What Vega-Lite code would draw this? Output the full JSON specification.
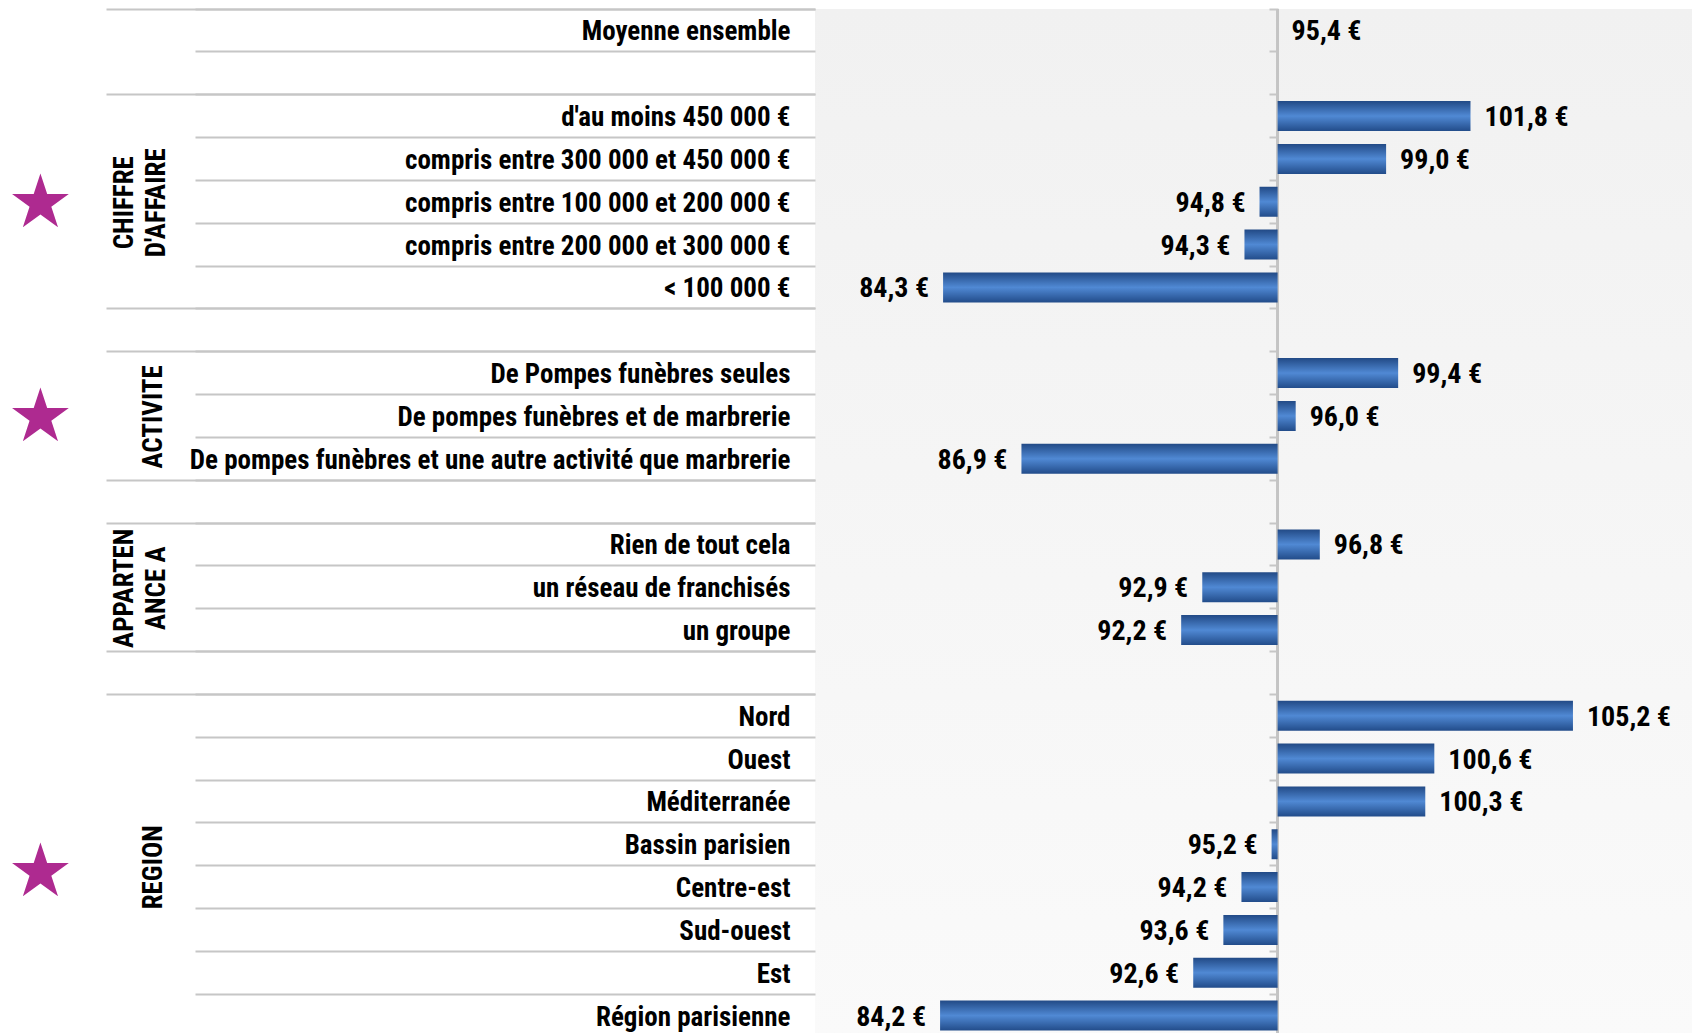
{
  "$schema": "https://vega.github.io/schema/vega-lite/v6.json",
  "width": 877,
  "height": 1028,
  "autosize": {"type": "none"},
  "padding": {"left": 815, "top": 9, "right": 0, "bottom": -4},
  "background": "#ffffff",
  "data": {
    "values": [
      {"libelle": "Moyenne ensemble", "rubrique": "ENSEMBLE", "montant": 95.4},
      {"libelle": " ", "rubrique": "", "montant": null},
      {"libelle": "d'au moins 450 000 €", "rubrique": "CHIFFRE D'AFFAIRE", "montant": 101.8},
      {"libelle": "compris entre 300 000 et 450 000 €", "rubrique": "CHIFFRE D'AFFAIRE", "montant": 99.0},
      {"libelle": "compris entre 100 000 et 200 000 €", "rubrique": "CHIFFRE D'AFFAIRE", "montant": 94.8},
      {"libelle": "compris entre 200 000 et 300 000 €", "rubrique": "CHIFFRE D'AFFAIRE", "montant": 94.3},
      {"libelle": "< 100 000 €", "rubrique": "CHIFFRE D'AFFAIRE", "montant": 84.3},
      {"libelle": "  ", "rubrique": "", "montant": null},
      {"libelle": "De Pompes funèbres seules", "rubrique": "ACTIVITE", "montant": 99.4},
      {"libelle": "De pompes funèbres et de marbrerie", "rubrique": "ACTIVITE", "montant": 96.0},
      {"libelle": "De pompes funèbres et une autre activité que marbrerie", "rubrique": "ACTIVITE", "montant": 86.9},
      {"libelle": "   ", "rubrique": "", "montant": null},
      {"libelle": "Rien de tout cela", "rubrique": "APPARTENANCE A", "montant": 96.8},
      {"libelle": "un réseau de franchisés", "rubrique": "APPARTENANCE A", "montant": 92.9},
      {"libelle": "un groupe", "rubrique": "APPARTENANCE A", "montant": 92.2},
      {"libelle": "    ", "rubrique": "", "montant": null},
      {"libelle": "Nord", "rubrique": "REGION", "montant": 105.2},
      {"libelle": "Ouest", "rubrique": "REGION", "montant": 100.6},
      {"libelle": "Méditerranée", "rubrique": "REGION", "montant": 100.3},
      {"libelle": "Bassin parisien", "rubrique": "REGION", "montant": 95.2},
      {"libelle": "Centre-est", "rubrique": "REGION", "montant": 94.2},
      {"libelle": "Sud-ouest", "rubrique": "REGION", "montant": 93.6},
      {"libelle": "Est", "rubrique": "REGION", "montant": 92.6},
      {"libelle": "Région parisienne", "rubrique": "REGION", "montant": 84.2}
    ]
  },
  "resolve": {"scale": {"y": "shared", "x": "shared"}, "axis": {"y": "independent"}},
  "layer": [
    {
      "mark": {"type": "text", "text": "", "opacity": 0},
      "encoding": {
        "y": {
          "field": "libelle", "type": "nominal", "sort": null,
          "scale": {"paddingInner": 0, "paddingOuter": 0},
          "axis": {
            "orient": "left", "title": null, "domain": false, "ticks": false, "grid": false,
            "labelFont": "Roboto Condensed, Liberation Sans Narrow, DejaVu Sans Condensed, sans-serif",
            "labelFontSize": 27, "labelFontWeight": "bold", "labelColor": "#000000",
            "labelPadding": 25, "labelLimit": 800, "labelAlign": "right", "labelBaseline": "middle",
            "labelOffset": 2
          }
        }
      }
    },
    {
      "mark": {"type": "rule", "stroke": "#C4C4C4", "strokeWidth": 2},
      "encoding": {
        "x": {"datum": 95.4, "type": "quantitative", "scale": {"domain": [80.05, 109.15], "nice": false, "zero": false}, "axis": null}
      }
    },
    {
      "mark": {
        "type": "bar",
        "height": {"band": 0.7},
        "fill": {
          "gradient": "linear", "x1": 0, "y1": 0, "x2": 0, "y2": 1,
          "stops": [
            {"offset": 0, "color": "#224A86"},
            {"offset": 0.5, "color": "#5089D4"},
            {"offset": 1, "color": "#224C8A"}
          ]
        }
      },
      "encoding": {
        "y": {
          "field": "libelle", "type": "nominal", "sort": null,
          "axis": {
            "orient": "left", "title": null, "domain": false, "labels": false, "grid": false,
            "ticks": true, "tickSize": 620, "tickWidth": 2, "tickColor": "#C6C6C6", "bandPosition": 0
          }
        },
        "x": {"field": "montant", "type": "quantitative", "axis": null},
        "x2": {"datum": 95.4}
      }
    },
    {
      "transform": [{"filter": "isValid(datum.montant) && datum.montant >= 95.4"}],
      "mark": {
        "type": "text", "align": "left", "baseline": "middle", "dx": 14, "dy": 2,
        "font": "Roboto Condensed, Liberation Sans Narrow, DejaVu Sans Condensed, sans-serif",
        "fontSize": 28, "fontWeight": "bold", "color": "#000000"
      },
      "encoding": {
        "y": {
          "field": "libelle", "type": "nominal", "sort": null,
          "axis": {
            "orient": "left", "title": null, "domain": false, "labels": false, "grid": false,
            "ticks": true, "tickSize": 709, "tickWidth": 2, "tickColor": "#C6C6C6", "bandPosition": 0,
            "tickOpacity": {
              "condition": {"test": "indexof(['Moyenne ensemble', \"d'au moins 450 000 €\", '  ', 'De Pompes funèbres seules', '   ', 'Rien de tout cela', '    ', 'Nord'], datum.value) >= 0", "value": 1},
              "value": 0
            }
          }
        },
        "x": {"field": "montant", "type": "quantitative", "axis": null},
        "text": {"field": "montant", "type": "quantitative", "format": "$.1f"}
      }
    },
    {
      "transform": [{"filter": "isValid(datum.montant) && datum.montant < 95.4"}],
      "mark": {
        "type": "text", "align": "right", "baseline": "middle", "dx": -14, "dy": 2,
        "font": "Roboto Condensed, Liberation Sans Narrow, DejaVu Sans Condensed, sans-serif",
        "fontSize": 28, "fontWeight": "bold", "color": "#000000"
      },
      "encoding": {
        "y": {
          "field": "libelle", "type": "nominal", "sort": null,
          "axis": {
            "orient": "left", "title": null, "domain": false, "ticks": false, "grid": false,
            "labelAngle": 270, "labelAlign": "center", "labelBaseline": "bottom",
            "labelPadding": {"condition": {"test": "datum.value == 'compris entre 100 000 et 200 000 €' || datum.value == 'un réseau de franchisés'", "value": 677}, "value": 648},
            "labelLineHeight": 32, "labelLimit": 400,
            "labelFont": "Roboto Condensed, Liberation Sans Narrow, DejaVu Sans Condensed, sans-serif",
            "labelFontSize": 27, "labelFontWeight": "bold", "labelColor": "#000000",
            "labelOffset": {"condition": {"test": "datum.value == 'Bassin parisien'", "value": 23}, "value": 1},
            "labelExpr": "datum.value == 'compris entre 100 000 et 200 000 €' ? ['CHIFFRE', \"D'AFFAIRE\"] : datum.value == 'De pompes funèbres et de marbrerie' ? 'ACTIVITE' : datum.value == 'un réseau de franchisés' ? ['APPARTEN', 'ANCE A'] : datum.value == 'Bassin parisien' ? 'REGION' : ''"
          }
        },
        "x": {"field": "montant", "type": "quantitative", "axis": null},
        "text": {"field": "montant", "type": "quantitative", "format": "$.1f"}
      }
    },
    {
      "mark": {"type": "text", "text": "", "opacity": 0},
      "encoding": {
        "y": {
          "field": "libelle", "type": "nominal", "sort": null,
          "axis": {
            "orient": "left", "title": null, "domain": false, "ticks": false, "grid": false,
            "labelAngle": 0, "labelAlign": "center", "labelBaseline": "middle",
            "labelPadding": 775, "labelLimit": 400,
            "labelFont": "DejaVu Sans", "labelFontSize": 74, "labelColor": "#AE2A90",
            "labelOffset": {"condition": {"test": "datum.value == 'Bassin parisien'", "value": 30}, "value": 3},
            "labelExpr": "indexof(['compris entre 100 000 et 200 000 €', 'De pompes funèbres et de marbrerie', 'Bassin parisien'], datum.value) >= 0 ? '★' : ''"
          }
        }
      }
    },
    {
      "mark": {"type": "text", "text": "", "opacity": 0},
      "encoding": {
        "y": {
          "field": "libelle", "type": "nominal", "sort": null,
          "axis": {
            "orient": "left", "title": null, "domain": false, "labels": false, "grid": false,
            "ticks": true, "tickSize": 9, "tickWidth": 2, "tickColor": "#C6C6C6", "bandPosition": 0,
            "offset": -463
          }
        }
      }
    }
  ],
  "config": {
    "locale": {
      "number": {"decimal": ",", "thousands": " ", "grouping": [3], "currency": ["", " €"]}
    },
    "view": {
      "stroke": null,
      "fill": {
        "gradient": "linear", "x1": 0, "y1": 0, "x2": 0, "y2": 1,
        "stops": [
          {"offset": 0, "color": "#F1F1F1"},
          {"offset": 1, "color": "#FAFAFA"}
        ]
      }
    }
  }
}
